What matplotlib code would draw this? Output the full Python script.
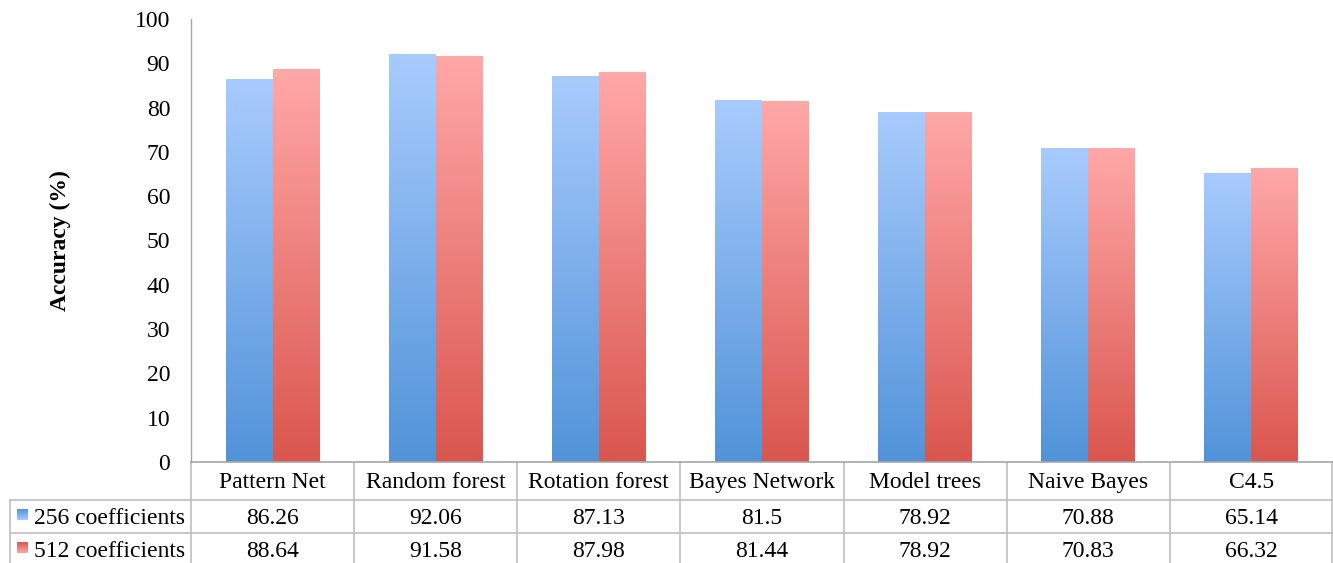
import matplotlib
matplotlib.use("Agg")
import matplotlib.pyplot as plt
import numpy as np
from matplotlib.colors import LinearSegmentedColormap

categories = ["Pattern Net", "Random forest", "Rotation forest", "Bayes Network",
              "Model trees", "Naive Bayes", "C4.5"]
series_names = ["256 coefficients", "512 coefficients"]
vals_256 = [86.26, 92.06, 87.13, 81.5, 78.92, 70.88, 65.14]
vals_512 = [88.64, 91.58, 87.98, 81.44, 78.92, 70.83, 66.32]
yticks = [0, 10, 20, 30, 40, 50, 60, 70, 80, 90, 100]

plt.rcParams['font.family'] = ['Liberation Serif', 'DejaVu Serif']

W, H = 1333, 563
fig = plt.figure(figsize=(W / 100, H / 100), dpi=100)

x0, x1 = 191, 1333
y0, y1 = 462, 19
ax = fig.add_axes([x0 / W, (H - y0) / H, (x1 - x0) / W, (y0 - y1) / H])

blue_cmap = LinearSegmentedColormap.from_list("b", ["#5193d9", "#a8cbfd"])
red_cmap = LinearSegmentedColormap.from_list("r", ["#da564e", "#ffa8a8"])

FS = 17
n = len(categories)
bw = 0.288
grad = np.linspace(0, 1, 256).reshape(-1, 1)
for i in range(n):
    for off, v, cm in ((-bw, vals_256[i], blue_cmap), (0, vals_512[i], red_cmap)):
        left = i + off
        ax.imshow(grad, cmap=cm, origin="lower", aspect="auto",
                  extent=[left, left + bw, 0, v], zorder=2, interpolation="bilinear")

ax.set_xlim(-0.5, n - 0.5)
ax.set_ylim(0, 100)
ax.set_yticks(yticks)
ax.set_yticklabels([str(t) for t in yticks], fontsize=FS)
ax.tick_params(axis="y", length=0, pad=15)
ax.set_xticks([])
for s in ("top", "right"):
    ax.spines[s].set_visible(False)
ax.spines["left"].set_color("#a6a6a6")
ax.spines["bottom"].set_color("#a6a6a6")
ax.spines["left"].set_linewidth(1.0)
ax.spines["bottom"].set_linewidth(1.2)
ax.set_ylabel("Accuracy (%)", fontsize=FS, fontweight="bold", labelpad=46)

# Data table drawn in pixel coordinates
tab = fig.add_axes([0, 0, 1, 1], zorder=-1)
tab.axis("off")
lc = "#bfbfbf"
col_w = (x1 - x0) / n
r0, r1, r2, r3 = 462, 500, 533, 566
for yy in (r1, r2):
    tab.plot([10, x1], [yy, yy], color=lc, lw=1.2)
tab.plot([10, 10], [r1, r3], color=lc, lw=1.2)
for k in range(n + 1):
    xx = x0 + k * col_w
    if k == n:
        xx = x1 - 1
    tab.plot([xx, xx], [r0, r3], color=lc, lw=1.2)

for i, c in enumerate(categories):
    cx = x0 + (i + 0.5) * col_w
    tab.text(cx, 488, c, ha="center", va="baseline", fontsize=FS)
    tab.text(cx, 524, f"{vals_256[i]:g}", ha="center", va="baseline", fontsize=FS)
    tab.text(cx, 557, f"{vals_512[i]:g}", ha="center", va="baseline", fontsize=FS)

for j, (name, cm) in enumerate(zip(series_names, (blue_cmap, red_cmap))):
    yb = 524 if j == 0 else 557
    tab.imshow(grad, cmap=cm, origin="upper", aspect="auto",
               extent=[17, 28, yb - 4, yb - 15], interpolation="bilinear")
    tab.text(34, yb, name, ha="left", va="baseline", fontsize=FS)
tab.set_xlim(0, W)
tab.set_ylim(H, 0)

fig.savefig("out.png", dpi=100)
